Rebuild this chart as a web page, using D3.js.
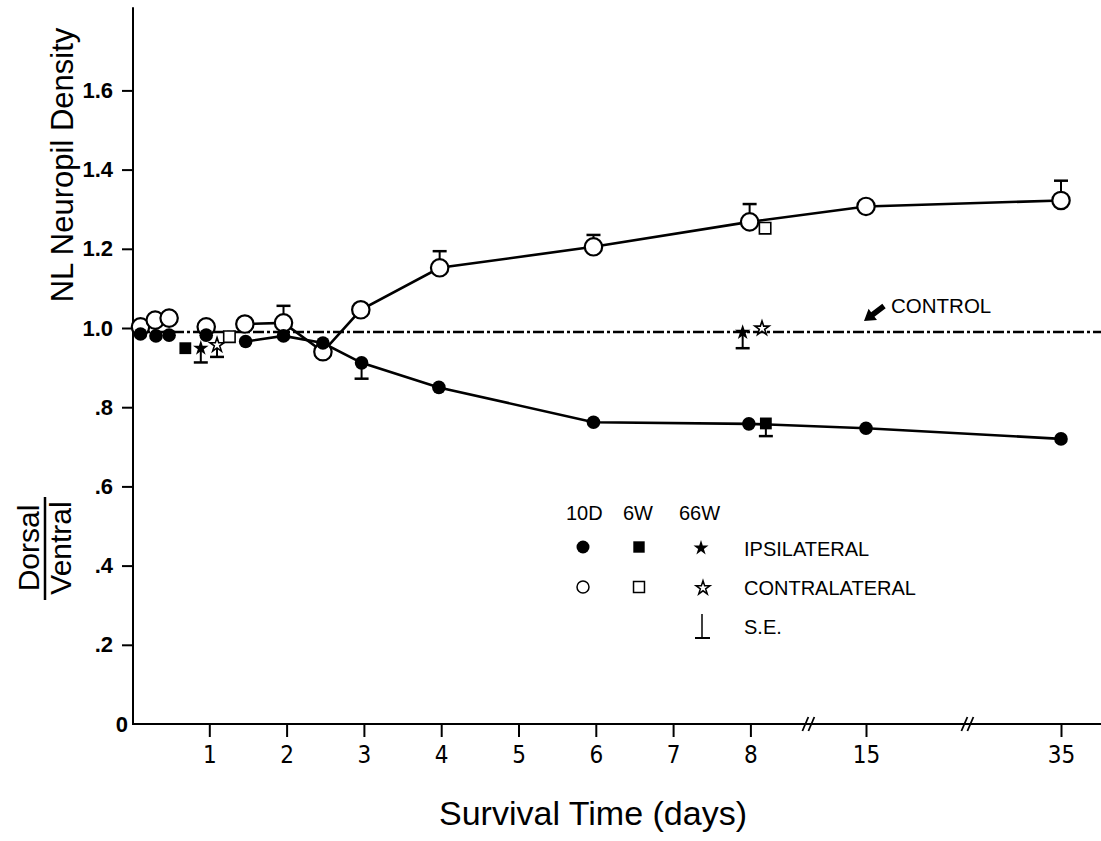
<!DOCTYPE html>
<html>
<head>
<meta charset="utf-8">
<script src="https://cdn.jsdelivr.net/npm/d3@7"></script>
<style>
  body { margin: 0; background: #fff; }
  svg { display: block; font-family: "Liberation Sans", Arial, Helvetica, sans-serif; }
</style>
</head>
<body>
<svg id="chart" width="1101" height="841"></svg>
<script>
// 10D, ipsilateral (filled circles) and contralateral (open circles)
var ipsiDays = [0.11, 0.31, 0.48, 0.96, 1.47, 1.96, 2.47, 2.97, 3.97, 5.97, 7.98, 15, 35];
var ipsiVals = [0.985, 0.98, 0.982, 0.982, 0.966, 0.98, 0.962, 0.912, 0.85, 0.762, 0.758, 0.747, 0.72];
var ipsiSE   = [0, 0, 0, 0, 0, 0, 0, -0.04, 0, 0, 0, 0, 0];
var contraDays = [0.11, 0.3, 0.48, 0.96, 1.46, 1.96, 2.47, 2.96, 3.98, 5.97, 7.99, 15, 35];
var contraVals = [1.003, 1.02, 1.025, 1.003, 1.01, 1.013, 0.94, 1.046, 1.152, 1.205, 1.268, 1.307, 1.322];
var contraSE   = [0, 0, 0, 0, 0, 0.043, 0, 0, 0.042, 0.03, 0.045, 0, 0.05];
var lineStart = 4; // points from day ~1.5 on are joined

// 6W (squares)
var sqIpsiDays = [0.69, 8.2], sqIpsiVals = [0.949, 0.759], sqIpsiSE = [0, -0.032];
var sqContraDays = [1.26, 8.19], sqContraVals = [0.978, 1.252], sqContraSE = [0, 0];

// 66W (stars)
var starIpsiDays = [0.89, 7.9], starIpsiVals = [0.949, 0.989], starIpsiSE = [-0.036, -0.04];
var starContraDays = [1.1, 8.15], starContraVals = [0.957, 0.999], starContraSE = [-0.03, 0];

var controlVal = 0.99;

var xTicks = [1, 2, 3, 4, 5, 6, 7, 8, 15, 35];
var yTicks = [0.2, 0.4, 0.6, 0.8, 1.0, 1.2, 1.4, 1.6];
var yTickLabels = ['.2', '.4', '.6', '.8', '1.0', '1.2', '1.4', '1.6'];
var breakDays = [8.75, 25.4];

var svg = d3.select('#chart');

// broken time axis: linear for 0-8.8 days, squeezed after the breaks
var x = d3.scaleLinear()
    .domain([0, 8.8, 15, 35])
    .range([132, 132 + 8.8 * 77.3, 866, 1061]);
var y = d3.scaleLinear()
    .domain([0, 1])
    .range([724, 328]);

function pts(days, vals, se) {
  return days.map(function(d, i) { return {day: d, val: vals[i], se: se ? se[i] : 0}; });
}
var ipsi = pts(ipsiDays, ipsiVals, ipsiSE),
    contra = pts(contraDays, contraVals, contraSE),
    sqIpsi = pts(sqIpsiDays, sqIpsiVals, sqIpsiSE),
    sqContra = pts(sqContraDays, sqContraVals, sqContraSE),
    starIpsi = pts(starIpsiDays, starIpsiVals, starIpsiSE),
    starContra = pts(starContraDays, starContraVals, starContraSE);

// axes
svg.append('line')
    .attr('x1', x(0)).attr('x2', 1101)
    .attr('y1', y(0)).attr('y2', y(0))
    .attr('stroke', '#000').attr('stroke-width', 2);
svg.append('line')
    .attr('x1', 133).attr('x2', 133)
    .attr('y1', y(0)).attr('y2', y(1.81))
    .attr('stroke', '#000').attr('stroke-width', 2);

var xAxis = d3.axisBottom(x).tickValues(xTicks).tickSize(13).tickPadding(9)
    .tickFormat(d3.format('d'));
var gx = svg.append('g')
    .attr('transform', 'translate(0,' + y(0) + ')')
    .call(xAxis);
gx.select('.domain').remove();
gx.selectAll('line').attr('stroke-width', 2);
gx.selectAll('text')
    .attr('font-family', '"Liberation Sans Narrow", "DejaVu Sans Condensed", sans-serif')
    .attr('font-size', 24).attr('fill', '#000');

var yAxis = d3.axisLeft(y).tickValues(yTicks).tickSize(11).tickPadding(9)
    .tickFormat(function(d, i) { return yTickLabels[i]; });
var gy = svg.append('g')
    .attr('transform', 'translate(133,0)')
    .call(yAxis);
gy.select('.domain').remove();
gy.selectAll('line').attr('stroke-width', 2);
gy.selectAll('text')
    .attr('font-family', '"Liberation Sans", Arial, sans-serif')
    .attr('font-weight', 'bold')
    .attr('font-size', 22).attr('fill', '#000');

svg.append('text')
    .attr('x', 128).attr('y', y(0) + 8)
    .attr('text-anchor', 'end')
    .attr('font-size', 22).attr('font-weight', 'bold')
    .text('0');

// axis breaks
breakDays.forEach(function(b) {
  [-3, 3].forEach(function(o) {
    svg.append('line')
        .attr('x1', x(b) + o - 3).attr('y1', y(0) + 7)
        .attr('x2', x(b) + o + 3).attr('y2', y(0) - 7)
        .attr('stroke', '#000').attr('stroke-width', 1.8);
  });
});

// control line
svg.append('line')
    .attr('x1', 133).attr('x2', 1101)
    .attr('y1', y(controlVal)).attr('y2', y(controlVal))
    .attr('stroke', '#000').attr('stroke-width', 2.5)
    .attr('stroke-dasharray', '11,3,3,3');

// control arrow
var ax0 = 884, ay0 = 306, ax1 = 864, ay1 = 321;
var ang = Math.atan2(ay1 - ay0, ax1 - ax0);
function rot(px, py) {
  return [ax1 + px * Math.cos(ang) - py * Math.sin(ang), ay1 + px * Math.sin(ang) + py * Math.cos(ang)];
}
var len = Math.hypot(ax1 - ax0, ay1 - ay0);
svg.append('path')
    .attr('d', d3.line()([rot(0, 0), rot(-11, -7), rot(-11, -2.8), rot(-len, -2.8), rot(-len, 2.8), rot(-11, 2.8), rot(-11, 7)]) + 'Z')
    .attr('fill', '#000');
svg.append('text')
    .attr('x', 891).attr('y', 313)
    .attr('font-size', 20.5)
    .text('CONTROL');

// connecting lines
var line = d3.line()
    .x(function(d) { return x(d.day); })
    .y(function(d) { return y(d.val); });
svg.append('path')
    .datum(contra.slice(lineStart))
    .attr('d', line)
    .attr('fill', 'none').attr('stroke', '#000').attr('stroke-width', 2.6);
svg.append('path')
    .datum(ipsi.slice(lineStart))
    .attr('d', line)
    .attr('fill', 'none').attr('stroke', '#000').attr('stroke-width', 2.6);

// error bars
var allPts = [].concat(contra, ipsi, sqIpsi, sqContra, starIpsi, starContra)
    .filter(function(d) { return d.se !== 0; });
var eb = svg.append('g').selectAll('g').data(allPts).enter().append('g');
eb.append('line')
    .attr('x1', function(d) { return x(d.day); })
    .attr('x2', function(d) { return x(d.day); })
    .attr('y1', function(d) { return y(d.val); })
    .attr('y2', function(d) { return y(d.val + d.se); })
    .attr('stroke', '#000').attr('stroke-width', 2);
eb.append('line')
    .attr('x1', function(d) { return x(d.day) - 7; })
    .attr('x2', function(d) { return x(d.day) + 7; })
    .attr('y1', function(d) { return y(d.val + d.se); })
    .attr('y2', function(d) { return y(d.val + d.se); })
    .attr('stroke', '#000').attr('stroke-width', 2.5);

// markers
function drawCircles(data, r, filled) {
  svg.append('g').selectAll('circle').data(data).enter().append('circle')
      .attr('cx', function(d) { return x(d.day); })
      .attr('cy', function(d) { return y(d.val); })
      .attr('r', r)
      .attr('fill', filled ? '#000' : '#fff')
      .attr('stroke', '#000').attr('stroke-width', filled ? 0 : 2.2);
}
function drawSymbols(data, type, size, filled) {
  svg.append('g').selectAll('path').data(data).enter().append('path')
      .attr('transform', function(d) { return 'translate(' + x(d.day) + ',' + y(d.val) + ')'; })
      .attr('d', d3.symbol().type(type).size(size))
      .attr('fill', filled ? '#000' : '#fff')
      .attr('stroke', '#000').attr('stroke-width', filled ? 0 : 1.6);
}
drawCircles(contra, 8.7, false);
drawCircles(ipsi, 6.8, true);
drawSymbols(sqContra, d3.symbolSquare, 130, false);
drawSymbols(sqIpsi, d3.symbolSquare, 140, true);
drawSymbols(starContra, d3.symbolStar, 62, false);
drawSymbols(starIpsi, d3.symbolStar, 75, true);

// legend
var lg = svg.append('g').attr('font-size', 20);
[['10D', 566], ['6W', 623], ['66W', 679]].forEach(function(h) {
  lg.append('text').attr('x', h[1]).attr('y', 520).text(h[0]);
});
lg.append('circle').attr('cx', 583).attr('cy', 547).attr('r', 6.5).attr('fill', '#000');
lg.append('path').attr('transform', 'translate(639,547)')
    .attr('d', d3.symbol().type(d3.symbolSquare).size(130)).attr('fill', '#000');
lg.append('path').attr('transform', 'translate(701,548)')
    .attr('d', d3.symbol().type(d3.symbolStar).size(70)).attr('fill', '#000');
lg.append('circle').attr('cx', 583).attr('cy', 587).attr('r', 6)
    .attr('fill', '#fff').attr('stroke', '#000').attr('stroke-width', 1.5);
lg.append('path').attr('transform', 'translate(639,587)')
    .attr('d', d3.symbol().type(d3.symbolSquare).size(120))
    .attr('fill', '#fff').attr('stroke', '#000').attr('stroke-width', 1.5);
lg.append('path').attr('transform', 'translate(703,588)')
    .attr('d', d3.symbol().type(d3.symbolStar).size(60))
    .attr('fill', '#fff').attr('stroke', '#000').attr('stroke-width', 1.5);
lg.append('line').attr('x1', 702).attr('x2', 702).attr('y1', 614).attr('y2', 638)
    .attr('stroke', '#000').attr('stroke-width', 1.5);
lg.append('line').attr('x1', 695).attr('x2', 710).attr('y1', 638).attr('y2', 638)
    .attr('stroke', '#000').attr('stroke-width', 2);
lg.append('text').attr('x', 744).attr('y', 556).text('IPSILATERAL');
lg.append('text').attr('x', 744).attr('y', 595).text('CONTRALATERAL');
lg.append('text').attr('x', 744).attr('y', 634).text('S.E.');

// axis titles
svg.append('text')
    .attr('text-anchor', 'middle')
    .attr('font-size', 34)
    .attr('transform', 'translate(593,825)')
    .text('Survival Time (days)');
svg.append('text')
    .attr('text-anchor', 'middle')
    .attr('font-size', 31)
    .attr('transform', 'translate(73,165) rotate(-90)')
    .text('NL Neuropil Density');
svg.append('text')
    .attr('text-anchor', 'middle')
    .attr('font-size', 30)
    .attr('transform', 'translate(39,548) rotate(-90)')
    .text('Dorsal');
svg.append('line')
    .attr('x1', 45).attr('x2', 45).attr('y1', 497).attr('y2', 600)
    .attr('stroke', '#000').attr('stroke-width', 2.5);
svg.append('text')
    .attr('text-anchor', 'middle')
    .attr('font-size', 30)
    .attr('transform', 'translate(71,548) rotate(-90)')
    .text('Ventral');
</script>
</body>
</html>
